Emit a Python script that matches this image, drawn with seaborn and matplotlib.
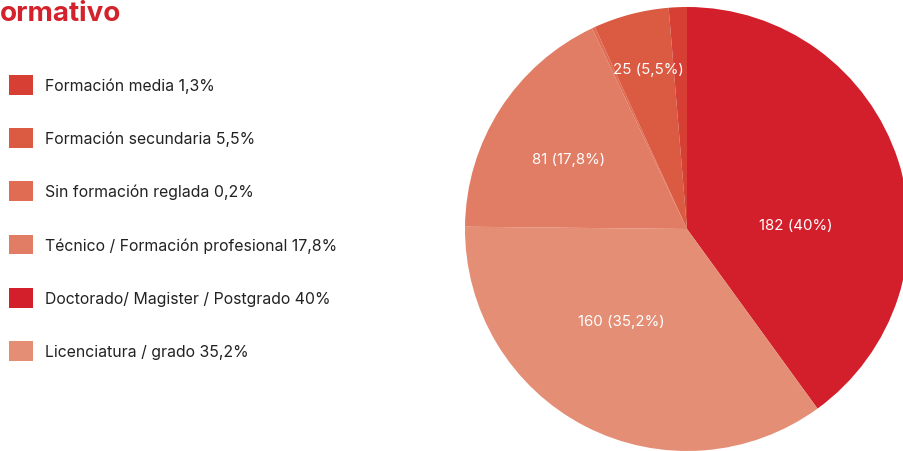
import numpy as np
import matplotlib.pyplot as plt
import seaborn as sns
from matplotlib.patches import Patch

# Data (pie order: clockwise from 12 o'clock)
categories = ["Doctorado/ Magister / Postgrado", "Licenciatura / grado",
              "Técnico / Formación profesional", "Sin formación reglada",
              "Formación secundaria", "Formación media"]
counts = [182, 160, 81, 1, 25, 6]
pct_text = ["40%", "35,2%", "17,8%", "0,2%", "5,5%", "1,3%"]
colors = ["#D31F2B", "#E58E76", "#E27D65", "#E06C53", "#DB5A42", "#D73F35"]

# legend order as in the reference
legend_order = [5, 4, 3, 2, 0, 1]

# label placement (radius, angle shift in degrees); None = no label
label_style = [(0.49, 16), (0.51, 8), (0.62, -2), None, (0.74, 1), None]

sns.set_theme(style="white")
plt.rcParams["font.family"] = ["Inter", "DejaVu Sans"]

W, H = 904, 452
fig = plt.figure(figsize=(W / 100, H / 100), dpi=100)

# pie axes: centre (687, 230), radius 222 px
cx, cy, r = 687, 230, 222
ax = fig.add_axes([(cx - r) / W, 1 - (cy + r) / H, 2 * r / W, 2 * r / H])
wedges, _ = ax.pie(counts, colors=colors, startangle=90, counterclock=False,
                   radius=1, wedgeprops=dict(linewidth=0))
for w in wedges:
    w.set_clip_on(False)
ax.set_xlim(-1, 1)
ax.set_ylim(-1, 1)
ax.set_aspect("equal")
ax.axis("off")

# slice labels
total = sum(counts)
cum = 0
for i, c in enumerate(counts):
    mid = (cum + c / 2) / total * 360
    cum += c
    st = label_style[i]
    if st is None:
        continue
    rad, shift = st
    a = np.deg2rad(mid + shift)
    ax.text(rad * np.sin(a), rad * np.cos(a), f"{c} ({pct_text[i]})",
            ha="center", va="center", color="white", fontsize=10.8)

# title (cropped in the reference)
fig.text(0 / W, 1 - 1 / H, "ormativo", color="#D3222B", fontsize=20,
         fontweight="bold", ha="left", va="top")

# legend
handles = [Patch(facecolor=colors[i], edgecolor="none") for i in legend_order]
labels = [f"{categories[i]} {pct_text[i]}" for i in legend_order]
fig.legend(handles, labels, loc="upper left",
           bbox_to_anchor=(9 / W, 1 - 76 / H), frameon=False,
           fontsize=11.4, handlelength=1.52, handleheight=1.52,
           handletextpad=0.75, labelspacing=2.13, borderpad=0,
           borderaxespad=0, labelcolor="#222222")

fig.savefig("out.png", dpi=100)
